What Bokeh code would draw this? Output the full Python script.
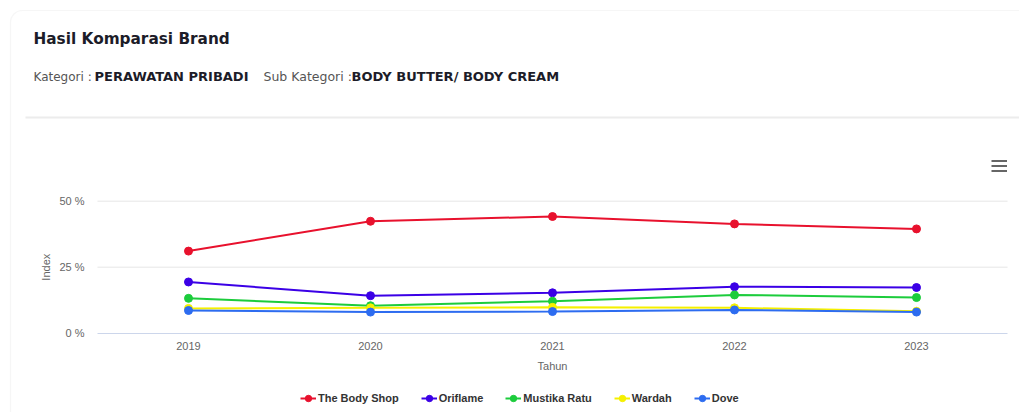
import math
from bokeh.plotting import figure
from bokeh.models import (Range1d, FixedTicker, Legend, LegendItem, BoxAnnotation, Label, LinearAxis)
from bokeh.embed import file_html
from bokeh.resources import INLINE

# ---- data ----
years = ["2019", "2020", "2021", "2022", "2023"]
body_shop = [31.1, 42.4, 44.2, 41.4, 39.5]
oriflame = [19.4, 14.2, 15.3, 17.6, 17.3]
mustika_ratu = [13.2, 10.4, 12.1, 14.5, 13.5]
wardah = [9.4, 9.6, 9.8, 9.6, 8.3]
dove = [8.6, 8.0, 8.2, 8.8, 8.0]
series_names = ["The Body Shop", "Oriflame", "Mustika Ratu", "Wardah", "Dove"]
series_values = [body_shop, oriflame, mustika_ratu, wardah, dove]
series_colors = ["#e8112d", "#3b00e6", "#1ccc3c", "#f5f000", "#2d6cf0"]
y_ticks = [0, 25, 50]
y_tick_labels = {0: "0 %", 25: "25 %", 50: "50 %"}
x_title = "Tahun"
y_title = "Index"
title_text = "Hasil Komparasi Brand"
cat_label = "Kategori :"
cat_value = "PERAWATAN PRIBADI"
sub_label = "Sub Kategori :"
sub_value = "BODY BUTTER/ BODY CREAM"

FONT = "Liberation Sans"
W, H = 1019, 412
# plot-area geometry (pixels): category slots 97..1007, value 0 at 332.7, 50 at 200.7
PL, PR, P0, P50 = 97.0, 1007.0, 332.7, 200.7
n = len(years)
kx = (PR - PL) / n
ky = (P0 - P50) / 50.0
x_start = -0.5 - PL / kx
x_end = -0.5 + (W - PL) / kx
y_end = P0 / ky
y_start = -(H - P0) / ky
xs = list(range(n))

p = figure(width=W, height=H, output_backend="svg", toolbar_location=None,
           x_range=Range1d(x_start, x_end), y_range=Range1d(y_start, y_end),
           x_axis_location=None, y_axis_location=None,
           min_border_left=0, min_border_right=0, min_border_top=0, min_border_bottom=0)
p.outline_line_color = None
p.grid.visible = False

# horizontal grid lines over the plot area
p.segment(x0=[-0.5] * 2, x1=[n - 0.5] * 2, y0=y_ticks[1:], y1=y_ticks[1:],
          line_color="#e6e6e6", line_width=1)

# axes fixed inside the frame
xaxis = LinearAxis(fixed_location=0, bounds=(-0.5, n - 0.5), ticker=FixedTicker(ticks=xs),
                   major_label_overrides={i: y for i, y in enumerate(years)})
xaxis.axis_line_color = "#ccd6eb"
xaxis.major_tick_line_color = None
xaxis.minor_tick_line_color = None
xaxis.major_tick_out = 0
xaxis.major_tick_in = 0
xaxis.major_label_standoff = 9
xaxis.major_label_text_font = FONT
xaxis.major_label_text_font_size = "11px"
xaxis.major_label_text_color = "#666666"
p.add_layout(xaxis, "below")

yaxis = LinearAxis(fixed_location=-0.5, bounds=(0, 50), ticker=FixedTicker(ticks=y_ticks),
                   major_label_overrides=y_tick_labels)
yaxis.axis_line_color = None
yaxis.major_tick_line_color = None
yaxis.minor_tick_line_color = None
yaxis.major_tick_out = 0
yaxis.major_tick_in = 0
yaxis.major_label_standoff = 13
yaxis.major_label_text_font = FONT
yaxis.major_label_text_font_size = "11px"
yaxis.major_label_text_color = "#666666"
p.add_layout(yaxis, "left")

# series
items = []
for name, vals, col in zip(series_names, series_values, series_colors):
    l = p.line(xs, vals, line_color=col, line_width=2)
    s = p.scatter(xs, vals, size=8, fill_color=col, line_color=col)
    items.append(LegendItem(label=name, renderers=[l, s]))

legend = Legend(items=items, orientation="horizontal", location=(300, H - 406),
                glyph_width=16, glyph_height=16, label_height=16, label_standoff=2, spacing=22,
                padding=0, margin=0, border_line_color=None, background_fill_alpha=0,
                label_text_font=FONT, label_text_font_size="11px",
                label_text_font_style="bold", label_text_color="#333333")
p.add_layout(legend, "center")

# ---- texts (frame covers the canvas; screen units: x from left, y from bottom) ----
def label(t, px, py, size, style="normal", color="#333333", font="DejaVu Sans",
          align="left", angle=0.0):
    p.add_layout(Label(x=px, y=H - py, x_units="screen", y_units="screen", text=t,
                       text_font=font, text_font_size=size, text_font_style=style,
                       text_color=color, text_align=align, text_baseline="middle", angle=angle))

label(title_text, 33, 38, "15.3px", "bold", "#1c1c28")
label(cat_label, 33, 76, "12px", "normal", "#555555")
label(cat_value, 94, 76, "13px", "bold", "#1c1c28")
label(sub_label, 263, 76, "12.5px", "normal", "#555555")
label(sub_value, 351, 76, "13px", "bold", "#1c1c28")
label(x_title, (PL + PR) / 2, 365, "11px", "normal", "#666666", FONT, "center")
label(y_title, 45, (P0 + P50) / 2, "11px", "normal", "#666666", FONT, "center", math.pi / 2)

# ---- decorations ----
def box(left, right, top, bottom, fill, line=None, radius=0):
    p.add_layout(BoxAnnotation(left=left, right=right, top=H - top, bottom=H - bottom,
                               left_units="screen", right_units="screen",
                               top_units="screen", bottom_units="screen",
                               fill_color=fill, fill_alpha=1 if fill else 0,
                               line_color=line, line_width=1.2, border_radius=radius,
                               level="underlay"))

box(10, W + 200, 10, H + 200, None, "#e2e2e2", 12)   # card outline
box(25, W + 10, 116, 118, "#ececec")                  # header separator
for yb in [159.5, 164.5, 169.5]:                      # menu icon
    box(991, 1006.5, yb, yb + 2, "#666666")

open("out.html", "w").write(file_html(p, INLINE))
